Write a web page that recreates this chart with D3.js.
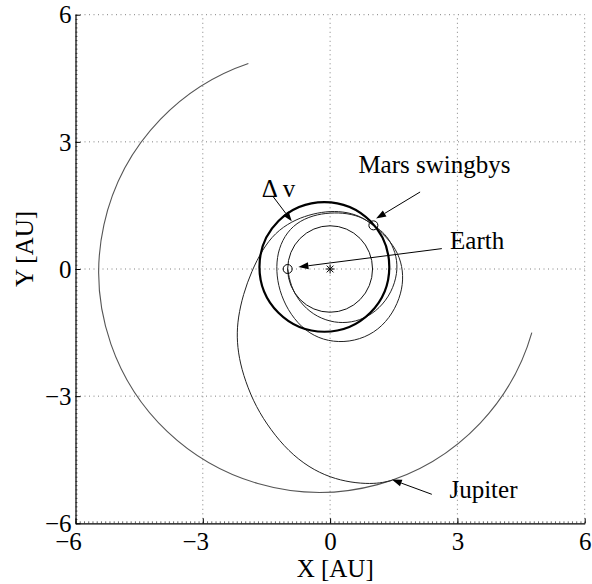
<!DOCTYPE html>
<html><head><meta charset="utf-8">
<script src="https://cdn.jsdelivr.net/npm/d3@7"></script>
<style>
body{margin:0;background:#fff}
svg{display:block}
text{font-family:"Liberation Serif","Times New Roman",serif;fill:#000}
</style>
</head><body>
<svg id="c" width="592" height="584"></svg>
<script>
// ---------- data (AU) ----------
const xTicks = [-6, -3, 0, 3, 6];
const yTicks = [-6, -3, 0, 3, 6];
const xLabel = "X [AU]";
const yLabel = "Y [AU]";

const earthOrbit = {cx: 0, cy: 0, rx: 1.0, ry: 1.02};
const marsOrbit  = {cx: -0.135, cy: 0.05, rx: 1.53, ry: 1.53};
// Jupiter orbit arc: radii + start/end points (counter-clockwise)
const jupiterOrbit = {rx: 5.203, ry: 5.197, start: [-1.926, 4.847], end: [4.754, -1.501]};

// Earth departure loop -> Mars swingby
const leg1 = [
  [-1.0, 0.0], [-0.93, -0.40], [-0.72, -0.78], [-0.40, -1.08], [0.0, -1.25],
  [0.40, -1.28], [0.80, -1.18], [1.17, -0.93], [1.45, -0.55], [1.59, -0.10],
  [1.57, 0.30], [1.42, 0.66], [1.24, 0.88], [1.02, 1.03]
];
// Mars -> Mars resonant loop
const leg2 = [
  [1.02, 1.03], [0.785, 1.21], [0.40, 1.32], [0.0, 1.33], [-0.40, 1.27],
  [-0.80, 1.09], [-1.08, 0.78], [-1.24, 0.38], [-1.27, -0.05], [-1.20, -0.50],
  [-1.00, -0.97], [-0.68, -1.38], [-0.28, -1.64], [0.20, -1.74], [0.70, -1.67],
  [1.14, -1.44], [1.48, -1.05], [1.68, -0.58], [1.73, -0.15], [1.65, 0.27],
  [1.43, 0.66], [1.02, 1.03]
];
// Mars -> Δv -> Jupiter
const leg3 = [
  [1.02, 1.03], [0.70, 1.26], [0.30, 1.36], [-0.10, 1.36], [-0.50, 1.28],
  [-0.903, 1.126], [-1.30, 0.85], [-1.60, 0.45], [-1.85, -0.05], [-2.05, -0.60],
  [-2.17, -1.15], [-2.20, -1.60], [-2.15, -2.10], [-2.00, -2.65], [-1.75, -3.25],
  [-1.40, -3.80], [-0.98, -4.30], [-0.50, -4.68], [0.00, -4.92], [0.50, -5.04],
  [0.95, -5.07], [1.25, -5.04], [1.454, -4.986]
];

const bodies = [[-1.0, 0.0], [1.02, 1.03]];   // Earth departure, Mars swingby
const sun = [0, 0];

const labels = ["\u0394 v", "Mars swingbys", "Earth", "Jupiter"];
const labelAt = [[-1.61, 1.70], [0.667, 2.27], [2.828, 0.481], [2.812, -5.411]];
const arrowFrom = [[-1.336, 1.699], [2.121, 1.817], [2.633, 0.481], [2.397, -5.316]];
const arrowTo = [[-0.903, 1.126], [1.084, 1.189], [-0.747, 0.047], [1.454, -4.969]];

// ---------- chart ----------
const L = 75.5, R = 584.7, T = 14.7, B = 523.3;
const svg = d3.select("#c");
const x = d3.scaleLinear([-6, 6], [L, R]);
const y = d3.scaleLinear([-6, 6], [B, T]);
const FS = 25;

// grid
const grid = svg.append("g").attr("stroke", "#808080").attr("stroke-width", 1)
  .attr("stroke-dasharray", "1,3.5");
xTicks.filter(v => v > -6).forEach(v => {
  grid.append("line").attr("x1", x(v)).attr("x2", x(v)).attr("y1", B).attr("y2", T);
});
yTicks.filter(v => v > -6).forEach(v => {
  grid.append("line").attr("y1", y(v)).attr("y2", y(v)).attr("x1", L).attr("x2", R);
});

// minor ticks
const minor = d3.range(-60, 61).map(i => i / 10);
svg.append("g").attr("transform", `translate(0,${B})`)
  .call(d3.axisBottom(x).tickValues(minor).tickSize(-2).tickSizeOuter(0).tickFormat(""))
  .call(g => g.select(".domain").remove())
  .selectAll("line").attr("stroke", "#000").attr("stroke-width", 0.6);
svg.append("g").attr("transform", `translate(${L},0)`)
  .call(d3.axisLeft(y).tickValues(minor).tickSize(-2).tickSizeOuter(0).tickFormat(""))
  .call(g => g.select(".domain").remove())
  .selectAll("line").attr("stroke", "#000").attr("stroke-width", 0.6);

const fmt = v => (v < 0 ? "\u2212" + Math.abs(v) : String(v));
// bottom axis
const ax = svg.append("g").attr("transform", `translate(0,${B})`)
  .call(d3.axisBottom(x).tickValues(xTicks).tickSize(-5).tickSizeOuter(0).tickPadding(0).tickFormat(fmt));
ax.select(".domain").attr("stroke", "#000").attr("stroke-width", 1.2);
ax.selectAll(".tick text").attr("font-size", FS).attr("font-family", "Liberation Serif")
  .attr("dy", null).attr("y", 27).attr("dx", d => d < 0 ? -7.5 : 0);
// left axis
const ay = svg.append("g").attr("transform", `translate(${L},0)`)
  .call(d3.axisLeft(y).tickValues(yTicks).tickSize(-5).tickSizeOuter(0).tickPadding(4).tickFormat(fmt));
ay.select(".domain").attr("stroke", "#000").attr("stroke-width", 1.2);
ay.selectAll(".tick text").attr("font-size", FS).attr("font-family", "Liberation Serif")
  .attr("dy", "0.33em");
svg.selectAll(".tick line").attr("stroke", "#000");

// axis titles
svg.append("text").attr("x", 296.7).attr("y", 577).attr("font-size", FS).text(xLabel);
svg.append("text").attr("transform", "translate(33,249) rotate(-90)")
  .attr("text-anchor", "middle").attr("font-size", FS).text(yLabel);

// orbits
const ell = (o, w, col) => svg.append("ellipse")
  .attr("cx", x(o.cx)).attr("cy", y(o.cy))
  .attr("rx", x(o.rx) - x(0)).attr("ry", y(0) - y(o.ry))
  .attr("fill", "none").attr("stroke", col).attr("stroke-width", w);
ell(earthOrbit, 1, "#111");

const J = jupiterOrbit;
svg.append("path")
  .attr("d", `M${x(J.start[0])},${y(J.start[1])}A${x(J.rx) - x(0)},${y(0) - y(J.ry)} 0 1 0 ${x(J.end[0])},${y(J.end[1])}`)
  .attr("fill", "none").attr("stroke", "#555").attr("stroke-width", 1.1);

const line = d3.line().x(d => x(d[0])).y(d => y(d[1])).curve(d3.curveBasis);
[leg1, leg2, leg3].forEach(p => svg.append("path").attr("d", line(p)).attr("fill", "none")
  .attr("stroke", "#222").attr("stroke-width", 1));
ell(marsOrbit, 2.2, "#000");

// body markers
svg.selectAll(".body").data(bodies).join("circle")
  .attr("cx", d => x(d[0])).attr("cy", d => y(d[1])).attr("r", 4.5)
  .attr("fill", "none").attr("stroke", "#000").attr("stroke-width", 1);

// sun asterisk
const sx = x(sun[0]), sy = y(sun[1]), s = 4.5;
const star = svg.append("g").attr("stroke", "#000").attr("stroke-width", 1);
[[0, -s, 0, s], [-s, 0, s, 0], [-s * 0.75, -s * 0.75, s * 0.75, s * 0.75], [-s * 0.75, s * 0.75, s * 0.75, -s * 0.75]]
  .forEach(a => star.append("line").attr("x1", sx + a[0]).attr("y1", sy + a[1]).attr("x2", sx + a[2]).attr("y2", sy + a[3]));

// annotations
labels.forEach((t, i) => {
  svg.append("text").attr("x", x(labelAt[i][0])).attr("y", y(labelAt[i][1]))
    .attr("font-size", FS).text(t);
  const x1 = x(arrowFrom[i][0]), y1 = y(arrowFrom[i][1]);
  const x2 = x(arrowTo[i][0]), y2 = y(arrowTo[i][1]);
  const a = Math.atan2(y2 - y1, x2 - x1), hl = 10, hw = 3.5;
  const bx = x2 - hl * Math.cos(a), by = y2 - hl * Math.sin(a);
  svg.append("line").attr("x1", x1).attr("y1", y1).attr("x2", bx).attr("y2", by)
    .attr("stroke", "#000").attr("stroke-width", 1);
  const px = -Math.sin(a) * hw, py = Math.cos(a) * hw;
  svg.append("path").attr("d", `M${x2},${y2}L${bx + px},${by + py}L${bx - px},${by - py}Z`)
    .attr("fill", "#000");
});
</script>
</body></html>
